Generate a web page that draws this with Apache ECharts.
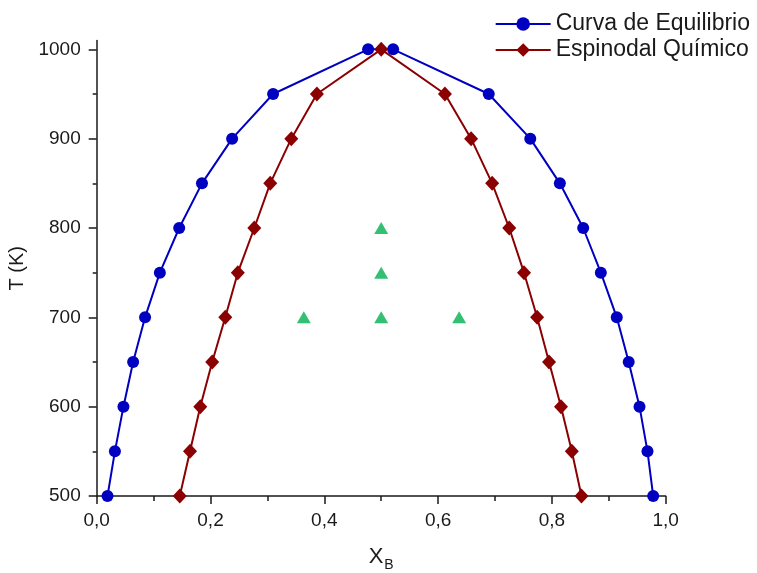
<!DOCTYPE html>
<html>
<head>
<meta charset="utf-8">
<script src="https://cdn.jsdelivr.net/npm/echarts@6/dist/echarts.min.js"></script>
<style>
  html, body { margin: 0; padding: 0; background: #fff; }
  #chart { width: 757px; height: 573px; }
</style>
</head>
<body>
<div id="chart"></div>
<script>
// Curva de Equilibrio (left branch going up, then right branch going down)
const equilibrioX = [0.019, 0.032, 0.047, 0.064, 0.085, 0.111, 0.145, 0.185, 0.238, 0.310, 0.477,
  0.521, 0.689, 0.762, 0.814, 0.855, 0.886, 0.914, 0.935, 0.954, 0.968, 0.978];
const equilibrioT = [500, 550, 600, 650, 700, 750, 800, 850, 900, 950, 1000,
  1000, 950, 900, 850, 800, 750, 700, 650, 600, 550, 500];

// Espinodal Químico
const espinodalX = [0.146, 0.164, 0.182, 0.203, 0.226, 0.248, 0.277, 0.305, 0.342, 0.387, 0.500,
  0.612, 0.658, 0.695, 0.725, 0.751, 0.774, 0.795, 0.816, 0.835, 0.852];
const espinodalT = [500, 550, 600, 650, 700, 750, 800, 850, 900, 950, 1000,
  950, 900, 850, 800, 750, 700, 650, 600, 550, 500];

// puntos verdes
const puntosX = [0.5, 0.5, 0.364, 0.5, 0.637];
const puntosT = [800, 750, 700, 700, 700];

const yMajorTicks = [500, 600, 700, 800, 900, 1000];
const yMinorTicks = [550, 650, 750, 850, 950];

const zip = (xs, ys) => xs.map((x, i) => [x, ys[i]]);

const font = 'Liberation Sans, Arial, sans-serif';
const chart = echarts.init(document.getElementById('chart'));

chart.setOption({
  animation: false,
  grid: { left: 96.7, right: 91.3, top: 40.4, bottom: 77, outerBoundsMode: 'none', containLabel: false },
  legend: {
    orient: 'vertical',
    right: 2,
    top: 7,
    itemWidth: 55,
    itemHeight: 17,
    itemGap: 2,
    data: ['Curva de Equilibrio', 'Espinodal Químico'],
    textStyle: { fontFamily: font, fontSize: 23, color: '#1a1a1a', lineHeight: 24 },
  },
  xAxis: {
    type: 'value',
    min: 0,
    max: 1,
    interval: 0.2,
    name: '{x|X}{b|B}',
    nameLocation: 'middle',
    nameGap: 46,
    nameTextStyle: {
      rich: {
        x: { fontFamily: font, fontSize: 22, color: '#1a1a1a' },
        b: { fontFamily: font, fontSize: 14, color: '#1a1a1a', padding: [16, 0, 0, 1] },
      },
    },
    splitLine: { show: false },
    axisLine: { lineStyle: { color: '#1a1a1a', width: 1.5 } },
    axisTick: { length: 8, lineStyle: { color: '#1a1a1a', width: 1.5 } },
    minorTick: { show: true, splitNumber: 2, length: 5, lineStyle: { color: '#1a1a1a', width: 1.5 } },
    axisLabel: {
      margin: 15,
      fontFamily: font,
      fontSize: 19,
      color: '#1a1a1a',
      formatter: (v) => v.toFixed(1).replace('.', ','),
    },
  },
  yAxis: [
    {
      type: 'value',
      min: 500,
      max: 1010,
      name: 'T (K)',
      nameLocation: 'middle',
      nameGap: 62,
      nameTextStyle: { fontFamily: font, fontSize: 20, color: '#1a1a1a' },
      splitLine: { show: false },
      axisLine: { show: true, lineStyle: { color: '#1a1a1a', width: 1.5 } },
      axisTick: { length: 8, customValues: yMajorTicks, lineStyle: { color: '#1a1a1a', width: 1.5 } },
      axisLabel: {
        margin: 16,
        fontFamily: font,
        fontSize: 19,
        color: '#1a1a1a',
        customValues: yMajorTicks,
        formatter: (v) => String(v),
      },
    },
    {
      type: 'value',
      min: 500,
      max: 1010,
      position: 'left',
      offset: 0,
      splitLine: { show: false },
      axisLine: { show: false },
      axisLabel: { show: false },
      axisTick: { length: 4, customValues: yMinorTicks, lineStyle: { color: '#1a1a1a', width: 1.5 } },
    },
  ],
  series: [
    {
      name: 'Curva de Equilibrio',
      type: 'line',
      data: zip(equilibrioX, equilibrioT),
      symbol: 'circle',
      symbolSize: 12,
      color: '#0000c0',
      lineStyle: { width: 2, color: '#0000c0' },
      itemStyle: { color: '#0000c0' },
    },
    {
      name: 'Espinodal Químico',
      type: 'line',
      data: zip(espinodalX, espinodalT),
      symbol: 'diamond',
      symbolSize: [14, 15],
      color: '#8b0000',
      lineStyle: { width: 2, color: '#8b0000' },
      itemStyle: { color: '#8b0000' },
      z: 3,
    },
    {
      name: 'Puntos',
      type: 'scatter',
      data: zip(puntosX, puntosT),
      symbol: 'triangle',
      symbolSize: [14, 12],
      itemStyle: { color: '#00b050' },
    },
  ],
});
</script>
</body>
</html>
